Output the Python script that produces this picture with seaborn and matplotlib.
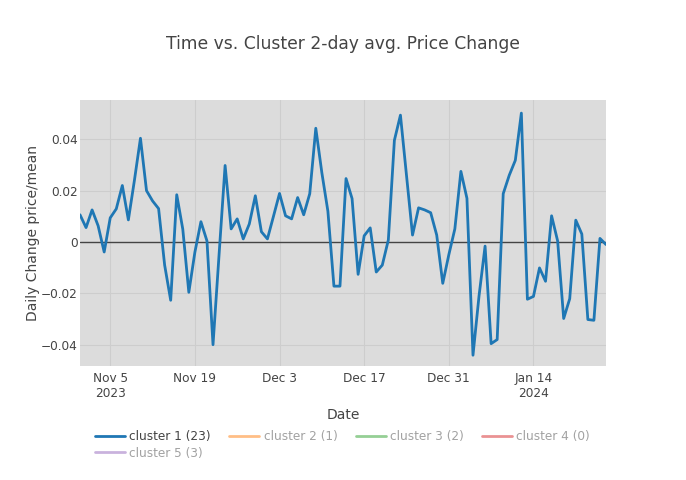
import matplotlib
matplotlib.use("Agg")
import matplotlib.pyplot as plt
from matplotlib.lines import Line2D
import pandas as pd
import seaborn as sns

# daily 2-day avg. price change, cluster 1
start_date = "2023-10-31"
change = [
    0.0106, 0.0056, 0.0125, 0.0063, -0.0039, 0.0094, 0.0129, 0.0220, 0.0086, 0.0240,
    0.0404, 0.0200, 0.0160, 0.0130, -0.0090, -0.0227, 0.0184, 0.0050, -0.0196, -0.0040,
    0.0079, 0.0004, -0.0400, -0.0050, 0.0298, 0.0051, 0.0090, 0.0012, 0.0070, 0.0180,
    0.0040, 0.0012, 0.0100, 0.0189, 0.0102, 0.0090, 0.0173, 0.0106, 0.0188, 0.0443,
    0.0270, 0.0120, -0.0172, -0.0172, 0.0247, 0.0169, -0.0126, 0.0024, 0.0055, -0.0117,
    -0.0090, 0.0008, 0.0396, 0.0494, 0.0260, 0.0027, 0.0133, 0.0125, 0.0114, 0.0027,
    -0.0161, -0.0050, 0.0051, 0.0275, 0.0170, -0.0441, -0.0210, -0.0016, -0.0396, -0.0380,
    0.0188, 0.0260, 0.0318, 0.0502, -0.0223, -0.0212, -0.0101, -0.0153, 0.0102, 0.0004,
    -0.0298, -0.0221, 0.0085, 0.0031, -0.0302, -0.0305, 0.0014, -0.0010,
]

clusters = ["cluster 1 (23)", "cluster 2 (1)", "cluster 3 (2)", "cluster 4 (0)", "cluster 5 (3)"]
cluster_colors = ["#1f77b4", "#ff7f0e", "#2ca02c", "#d62728", "#9467bd"]
visible = [True, False, False, False, False]

x_ticks = ["2023-11-05", "2023-11-19", "2023-12-03", "2023-12-17", "2023-12-31", "2024-01-14"]
x_ticklabels = ["Nov 5\n2023", "Nov 19", "Dec 3", "Dec 17", "Dec 31", "Jan 14\n2024"]
y_ticks = [-0.04, -0.02, 0, 0.02, 0.04]
y_ticklabels = ["\u22120.04", "\u22120.02", "0", "0.02", "0.04"]

df = pd.DataFrame({
    "Date": pd.date_range(start_date, periods=len(change), freq="D"),
    "change": change,
})

sns.set_style("white")
plt.rcParams["font.family"] = ["DejaVu Sans"]
TXT = "#444444"

fig = plt.figure(figsize=(6.86, 4.80), dpi=100)
ax = fig.add_axes([80 / 686, 1 - 366 / 480, 526 / 686, 266 / 480])
ax.set_facecolor("#dcdcdc")

sns.lineplot(data=df, x="Date", y="change", color=cluster_colors[0], linewidth=2,
             ax=ax, legend=False, zorder=3)

ax.set_xlim(df["Date"].iloc[0], df["Date"].iloc[-1])
ax.set_ylim(-0.0483, 0.0553)

ax.set_xticks(pd.to_datetime(x_ticks))
ax.set_xticklabels(x_ticklabels)
ax.set_yticks(y_ticks)
ax.set_yticklabels(y_ticklabels)
ax.tick_params(axis="both", length=0, labelsize=8.7, colors=TXT)
ax.tick_params(axis="x", pad=4)
ax.tick_params(axis="y", pad=1.5)
for lab in ax.get_xticklabels():
    lab.set_multialignment("center")

ax.grid(True, color="#cdcdcd", linewidth=0.8, zorder=0)
ax.set_axisbelow(True)
ax.axhline(0, color=TXT, linewidth=1, zorder=2)
for s in ax.spines.values():
    s.set_visible(False)

ax.set_xlabel("Date", fontsize=10, color=TXT, labelpad=6)
ax.set_ylabel("Daily Change price/mean", fontsize=10, color=TXT, labelpad=1)

fig.text(0.5, 1 - 44 / 480, "Time vs. Cluster 2-day avg. Price Change",
         ha="center", va="center", fontsize=12.3, color=TXT)

# legend: plotly-style row layout, hidden traces faded
handles = [Line2D([], [], color=c, linewidth=2, alpha=1.0 if v else 0.5)
           for c, v in zip(cluster_colors, visible)]
order = [0, 4, 1, 2, 3]
leg = fig.legend([handles[i] for i in order], [clusters[i] for i in order],
                 loc="upper left", bbox_to_anchor=(95 / 686, 1 - 430 / 480),
                 ncol=4, frameon=False, fontsize=8.7, handlelength=2.5,
                 handletextpad=0.35, columnspacing=1.5, labelspacing=0.3,
                 borderpad=0, borderaxespad=0)
for i, t in zip(order, leg.get_texts()):
    t.set_color(TXT if visible[i] else "#a2a2a2")

fig.savefig("out.png", dpi=100)
